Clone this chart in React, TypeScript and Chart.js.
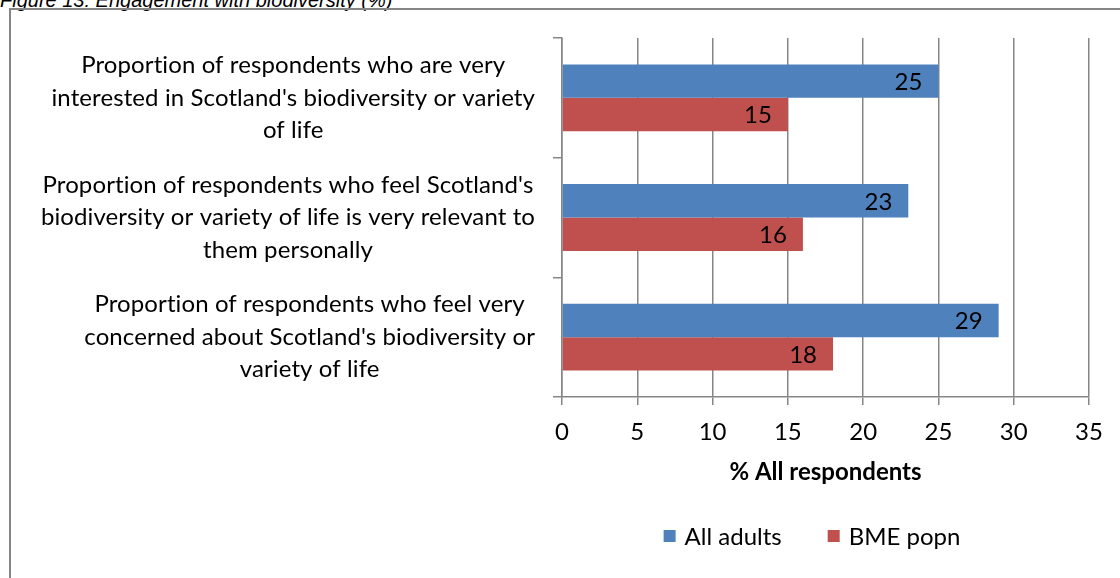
import React, { useEffect, useRef } from "react";
import { Chart, registerables } from "chart.js";

Chart.register(...registerables);

// Category labels, one array of lines per category (top to bottom)
const categories: string[][] = [
  ["Proportion of respondents who are very", "interested in Scotland's biodiversity or variety", "of life"],
  ["Proportion of respondents who feel Scotland's", "biodiversity or variety of life is very relevant to", "them personally"],
  ["Proportion of respondents who feel very", "concerned about Scotland's biodiversity or", "variety of life"],
];

const seriesNames = ["All adults", "BME popn"];
const allAdults = [25, 23, 29];
const bmePopn = [15, 16, 18];
const seriesColors = ["#4F81BD", "#C0504D"];

const xTicks = [0, 5, 10, 15, 20, 25, 30, 35];
const axisTitle = "% All respondents";
const figureTitle = "Figure 13: Engagement with biodiversity (%)";

const FONT = "Lato, 'Open Sans', sans-serif";
const FONT_SIZE = 24;
const GRID = "#868686";

// Multi-line category labels: each block right-aligned to the axis, lines centred within the block
const categoryLabels = {
  id: "categoryLabels",
  afterDraw(chart: any) {
    const { ctx } = chart;
    const y = chart.scales.y;
    const right = chart.chartArea.left - 27;
    const lineH = 32.5;
    ctx.save();
    ctx.font = `${FONT_SIZE}px ${FONT}`;
    // a hair of tracking keeps the "ti" pair as separate glyphs
    (ctx as any).letterSpacing = "0.1px";
    ctx.fillStyle = "#000";
    ctx.textAlign = "center";
    ctx.textBaseline = "middle";
    categories.forEach((lines, i) => {
      const cy = y.getPixelForTick(i);
      const w = Math.max(...lines.map((l) => ctx.measureText(l).width));
      const cx = right - w / 2;
      lines.forEach((l, j) => {
        ctx.fillText(l, cx, cy + (j - (lines.length - 1) / 2) * lineH);
      });
    });
    ctx.restore();
  },
};

// Value labels at the inside end of each bar
const valueLabels = {
  id: "valueLabels",
  afterDatasetsDraw(chart: any) {
    const { ctx } = chart;
    ctx.save();
    ctx.font = `${FONT_SIZE}px ${FONT}`;
    ctx.fillStyle = "#000";
    ctx.textAlign = "right";
    ctx.textBaseline = "middle";
    chart.data.datasets.forEach((ds: any, di: number) => {
      const meta = chart.getDatasetMeta(di);
      meta.data.forEach((bar: any, i: number) => {
        ctx.fillText(String(ds.data[i]), bar.x - 16, bar.y + 1);
      });
    });
    ctx.restore();
  },
};

// Legend below the axis title
const bottomLegend = {
  id: "bottomLegend",
  afterDraw(chart: any) {
    const { ctx } = chart;
    const box = 12;
    const gapText = 9;
    const gapItem = 46;
    const cy = 536;
    const centerX = 812;
    ctx.save();
    ctx.font = `${FONT_SIZE}px ${FONT}`;
    ctx.textBaseline = "middle";
    ctx.textAlign = "left";
    const items = chart.data.datasets.map((ds: any) => ({
      label: ds.label,
      color: ds.backgroundColor,
      w: ctx.measureText(ds.label).width,
    }));
    const total =
      items.reduce((s: number, it: any) => s + box + gapText + it.w, 0) + gapItem * (items.length - 1);
    let x = centerX - total / 2;
    items.forEach((it: any) => {
      ctx.fillStyle = it.color;
      ctx.fillRect(x, cy - box / 2, box, box);
      ctx.fillStyle = "#000";
      ctx.fillText(it.label, x + box + gapText, cy + 1);
      x += box + gapText + it.w + gapItem;
    });
    ctx.restore();
  },
};

export default function App() {
  const canvasRef = useRef<HTMLCanvasElement | null>(null);

  useEffect(() => {
    if (!canvasRef.current) return;
    const chart = new Chart(canvasRef.current, {
      type: "bar",
      data: {
        labels: categories.map((c) => c.join(" ")),
        datasets: [
          {
            label: seriesNames[0],
            data: allAdults,
            backgroundColor: seriesColors[0],
            categoryPercentage: 0.558,
            barPercentage: 1,
          },
          {
            label: seriesNames[1],
            data: bmePopn,
            backgroundColor: seriesColors[1],
            categoryPercentage: 0.558,
            barPercentage: 1,
          },
        ],
      },
      options: {
        indexAxis: "y",
        animation: false,
        responsive: false,
        devicePixelRatio: 1,
        layout: { padding: { top: 38, right: 31, left: 0, bottom: 0 } },
        plugins: {
          legend: { display: false },
          tooltip: { enabled: false },
        },
        scales: {
          x: {
            type: "linear",
            position: "bottom",
            min: 0,
            max: 35,
            afterBuildTicks: (s: any) => {
              s.ticks = xTicks.map((v) => ({ value: v }));
            },
            afterFit: (s: any) => {
              s.height = 181;
            },
            ticks: {
              color: "#000",
              font: { family: FONT, size: FONT_SIZE },
              padding: 12.5,
              maxRotation: 0,
            },
            grid: { color: GRID, lineWidth: 1.5, tickLength: 8, drawTicks: true },
            border: { color: GRID, width: 1.5 },
            title: {
              display: true,
              text: axisTitle,
              color: "#000",
              font: { family: FONT, size: FONT_SIZE, weight: "bold" },
              padding: { top: 0, bottom: 91.5 },
            },
          },
          y: {
            type: "category",
            afterFit: (s: any) => {
              s.width = 562;
            },
            ticks: { display: false },
            grid: {
              offset: true,
              drawOnChartArea: false,
              drawTicks: true,
              tickLength: 9,
              color: GRID,
              lineWidth: 1.5,
            },
            border: { color: GRID, width: 1.5 },
          },
        },
      },
      plugins: [valueLabels, categoryLabels, bottomLegend],
    });
    return () => chart.destroy();
  }, []);

  return (
    <div
      style={{
        position: "fixed",
        left: 0,
        top: 0,
        width: 1120,
        height: 578,
        overflow: "hidden",
        background: "#fff",
      }}
    >
      <div
        style={{
          position: "absolute",
          left: 0,
          top: -10,
          fontFamily: "'Liberation Sans', Arial, sans-serif",
          fontStyle: "italic",
          fontSize: 20,
          lineHeight: "20px",
          whiteSpace: "nowrap",
          color: "#000",
        }}
      >
        {figureTitle}
      </div>
      <div
        style={{
          position: "absolute",
          left: 9,
          top: 8,
          width: 1300,
          height: 800,
          borderTop: `2px solid ${GRID}`,
          borderLeft: `2px solid ${GRID}`,
        }}
      />
      <canvas
        ref={canvasRef}
        width={1120}
        height={578}
        style={{ position: "absolute", left: 0, top: 0 }}
      />
    </div>
  );
}
